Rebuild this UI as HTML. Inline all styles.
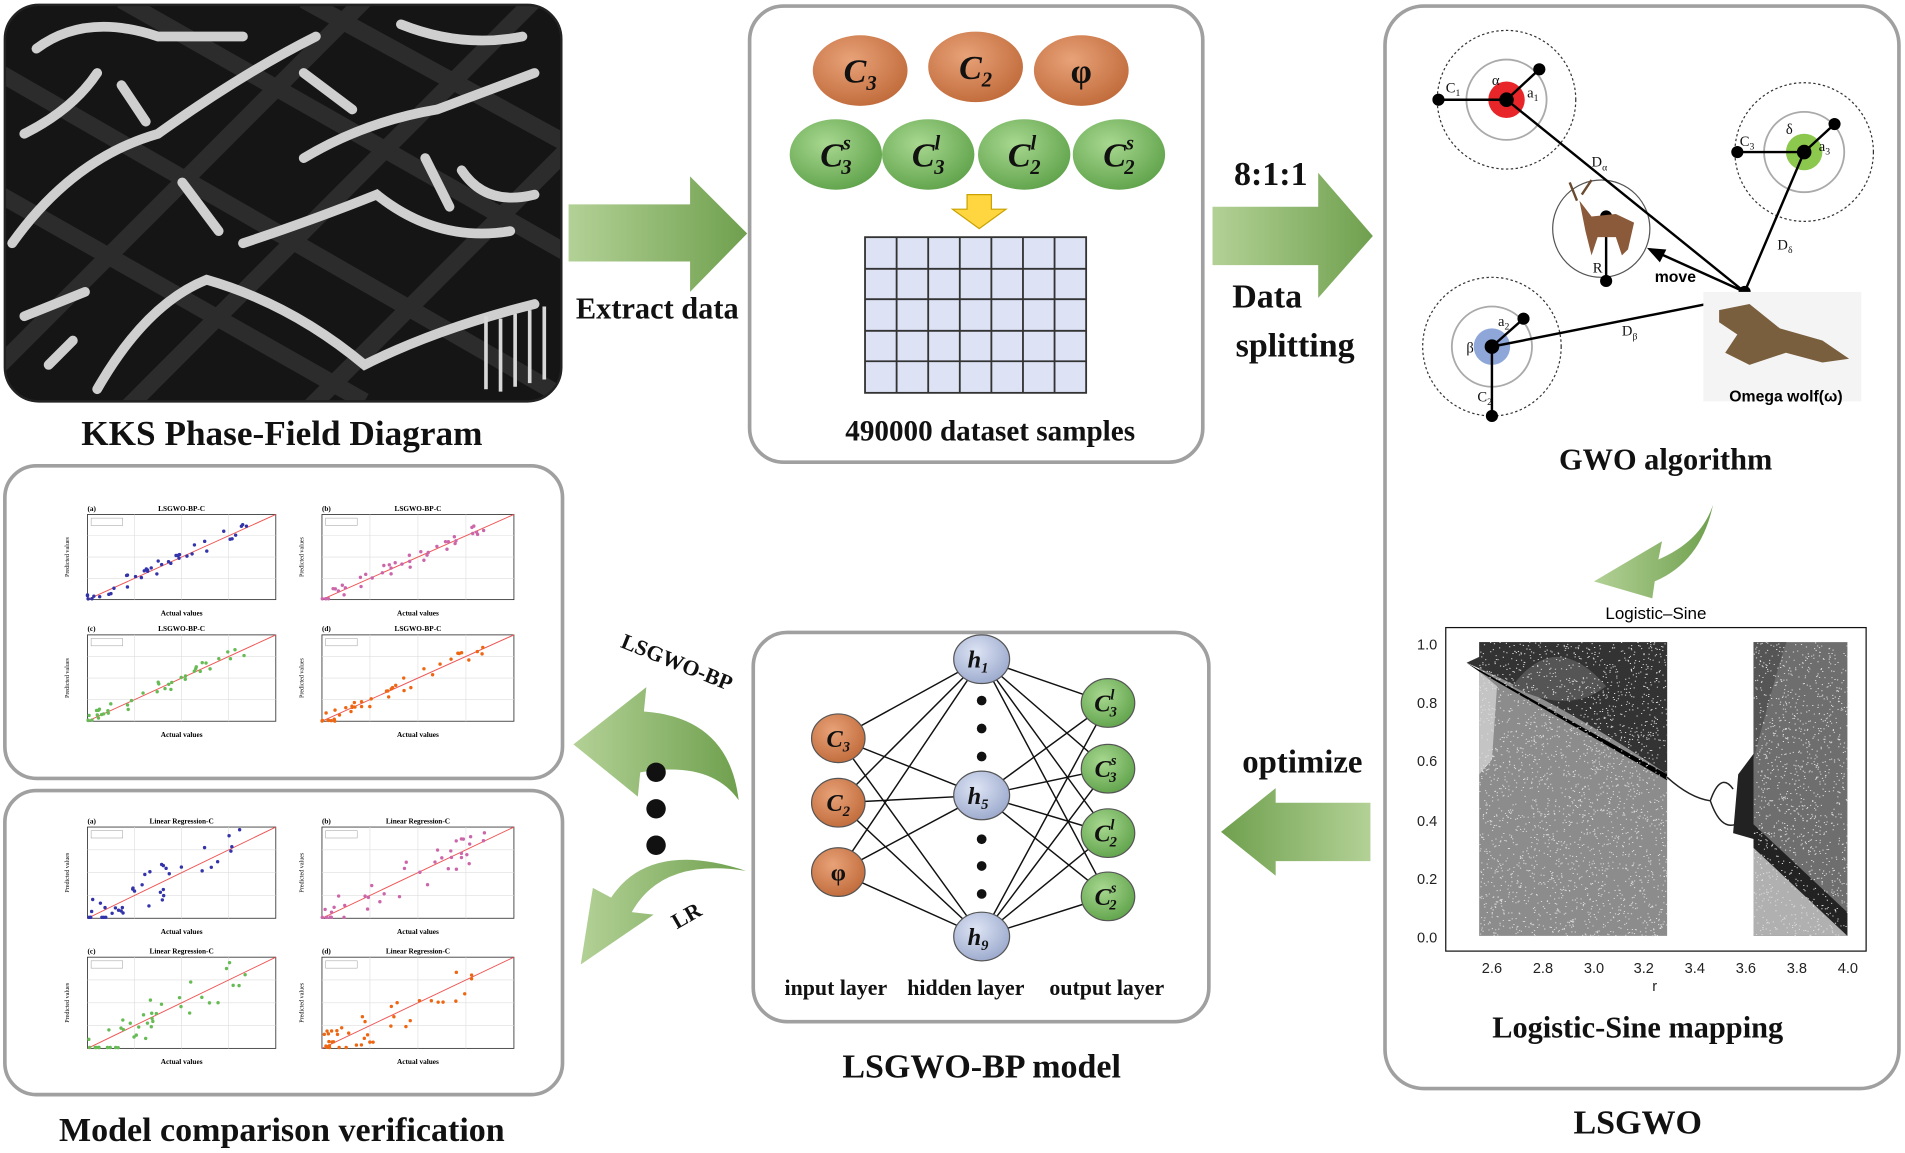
<!DOCTYPE html>
<html><head><meta charset="utf-8"><style>
html,body{margin:0;padding:0;background:#fff;overflow:hidden}
svg{display:block}
.t{font-family:"Liberation Serif",serif;font-weight:bold;fill:#111}
.s{font-family:"Liberation Sans",sans-serif}
</style></head><body>
<svg id="g" width="1905" height="1153" viewBox="0 0 1568 948" preserveAspectRatio="none" xmlns="http://www.w3.org/2000/svg">
<defs>
<radialGradient id="og" cx="40%" cy="35%" r="70%"><stop offset="0" stop-color="#e8a278"/><stop offset="1" stop-color="#c06a3a"/></radialGradient>
<radialGradient id="gg" cx="40%" cy="35%" r="70%"><stop offset="0" stop-color="#a8d890"/><stop offset="1" stop-color="#5fa24a"/></radialGradient>
<radialGradient id="bg" cx="40%" cy="35%" r="70%"><stop offset="0" stop-color="#dde4f4"/><stop offset="1" stop-color="#9aa8cc"/></radialGradient>
<linearGradient id="ar" x1="0" x2="1"><stop offset="0" stop-color="#b3d196"/><stop offset="1" stop-color="#6fa04e"/></linearGradient>
<linearGradient id="al" x1="1" x2="0"><stop offset="0" stop-color="#b3d196"/><stop offset="1" stop-color="#6fa04e"/></linearGradient>
<clipPath id="c1"><rect x="4" y="4" width="458" height="326" rx="28"/></clipPath>
</defs>

<!-- KKS image -->
<g clip-path="url(#c1)">
<rect x="4" y="4" width="458" height="326" fill="#151515"/>
<g stroke="#2c2c2c" stroke-width="14">
<path d="M0 60 L470 330 M0 160 L300 330 M100 0 L470 210 M250 0 L470 120"/>
<path d="M0 300 L300 0 M100 340 L440 0 M250 340 L470 120"/>
</g>
<g stroke="#cfcfcf" stroke-width="8" fill="none" stroke-linecap="round">
<path d="M30 40 Q70 10 130 30 L200 30"/>
<path d="M10 200 Q60 130 130 110 Q200 60 260 30"/>
<path d="M80 320 Q120 250 170 230 Q240 250 300 300 Q360 270 440 250"/>
<path d="M250 130 Q300 100 360 90 L440 60"/>
<path d="M200 200 Q260 180 310 160 Q360 200 420 190"/>
<path d="M330 20 Q380 40 430 30"/>
<path d="M20 260 L70 240"/>
<path d="M150 150 L180 190 M100 70 L120 100 M350 130 L370 170"/>
<path d="M20 110 Q60 90 80 60 M250 60 L290 90 M380 140 Q400 170 440 160 M40 300 L60 280"/>
</g>
<g stroke="#d8d8d8" stroke-width="3"><path d="M400 260 v60 M412 262 v60 M424 258 v60 M436 255 v60 M448 252 v60"/></g>
</g>
<rect x="4" y="4" width="458" height="326" rx="28" fill="none" stroke="#222" stroke-width="2"/>
<text class="t" x="232" y="366" font-size="29" text-anchor="middle">KKS Phase-Field Diagram</text>

<!-- arrow 1 -->
<path d="M468 168 H568 V145 L615 192 L568 240 V215 H468 Z" fill="url(#ar)"/>
<text class="t" x="541" y="262" font-size="25" text-anchor="middle">Extract data</text>

<!-- box 2 -->
<rect x="617" y="5" width="373" height="375" rx="28" fill="#fff" stroke="#a0a0a0" stroke-width="3"/>
<g class="t" font-size="28" font-style="italic" text-anchor="middle" fill="#111">
<ellipse cx="708" cy="58" rx="39" ry="29" fill="url(#og)"/><text x="708" y="68">C<tspan font-size="17" dy="6">3</tspan></text>
<ellipse cx="803" cy="55" rx="39" ry="29" fill="url(#og)"/><text x="803" y="65">C<tspan font-size="17" dy="6">2</tspan></text>
<ellipse cx="890" cy="58" rx="39" ry="29" fill="url(#og)"/><text x="890" y="68" font-style="normal">φ</text>
<ellipse cx="688" cy="127" rx="38" ry="29" fill="url(#gg)"/><text x="688" y="137">C<tspan font-size="17" dy="-14">s</tspan><tspan font-size="17" dx="-8" dy="20">3</tspan></text>
<ellipse cx="764" cy="127" rx="38" ry="29" fill="url(#gg)"/><text x="764" y="137">C<tspan font-size="17" dy="-14">l</tspan><tspan font-size="17" dx="-5" dy="20">3</tspan></text>
<ellipse cx="843" cy="127" rx="38" ry="29" fill="url(#gg)"/><text x="843" y="137">C<tspan font-size="17" dy="-14">l</tspan><tspan font-size="17" dx="-5" dy="20">2</tspan></text>
<ellipse cx="921" cy="127" rx="38" ry="29" fill="url(#gg)"/><text x="921" y="137">C<tspan font-size="17" dy="-14">s</tspan><tspan font-size="17" dx="-8" dy="20">2</tspan></text>
</g>
<path d="M796 160 H816 V172 H828 L806 188 L784 172 H796 Z" fill="#ffd640" stroke="#c9a200"/>
<rect x="712" y="195" width="182" height="128" fill="#dde3f4" stroke="#333" stroke-width="1.5"/>
<g stroke="#333" stroke-width="1.5"><path d="M738 195V323M764 195V323M790 195V323M816 195V323M842 195V323M868 195V323M712 221H894M712 246H894M712 272H894M712 297H894"/></g>
<text class="t" x="815" y="362" font-size="24" text-anchor="middle">490000 dataset samples</text>

<!-- arrow 2 -->
<path d="M998 170 H1085 V142 L1130 194 L1085 245 V218 H998 Z" fill="url(#ar)"/>
<text class="t" x="1046" y="152" font-size="28" text-anchor="middle">8:1:1</text>
<text class="t" x="1043" y="253" font-size="28" text-anchor="middle">Data</text>
<text class="t" x="1066" y="293" font-size="28" text-anchor="middle">splitting</text>

<!-- box 3 -->
<rect x="1140" y="5" width="423" height="890" rx="32" fill="#fff" stroke="#a0a0a0" stroke-width="3"/>
<g fill="none">
<circle cx="1240" cy="82" r="57" stroke="#333" stroke-dasharray="2 2"/><circle cx="1240" cy="82" r="33" stroke="#aaa" stroke-width="1.5"/>
<circle cx="1485" cy="125" r="57" stroke="#333" stroke-dasharray="2 2"/><circle cx="1485" cy="125" r="33" stroke="#aaa" stroke-width="1.5"/>
<circle cx="1228" cy="285" r="57" stroke="#333" stroke-dasharray="2 2"/><circle cx="1228" cy="285" r="33" stroke="#aaa" stroke-width="1.5"/>
<circle cx="1318" cy="188" r="40" stroke="#555"/>
</g>
<circle cx="1240" cy="82" r="15" fill="#e8262a"/><circle cx="1485" cy="125" r="15" fill="#8cc84e"/><circle cx="1228" cy="285" r="15" fill="#8ea6d8"/>
<g stroke="#000" stroke-width="2" fill="#000">
<path d="M1184 82H1240L1267 57M1240 82L1436 240M1430 125H1485L1510 102M1485 125L1436 240M1228 285L1254 262M1228 285V342M1228 285L1430 245M1322 178V231M1436 240L1365 208" fill="none"/>
<circle cx="1184" cy="82" r="4"/><circle cx="1240" cy="82" r="5"/><circle cx="1267" cy="57" r="4"/>
<circle cx="1430" cy="125" r="4"/><circle cx="1485" cy="125" r="5"/><circle cx="1510" cy="102" r="4"/>
<circle cx="1228" cy="285" r="5"/><circle cx="1254" cy="262" r="4"/><circle cx="1228" cy="342" r="4"/>
<circle cx="1322" cy="178" r="4"/><circle cx="1322" cy="231" r="4"/><circle cx="1436" cy="240" r="4"/>
<path d="M1358 205 L1370 206 L1366 214Z"/>
</g>
<path d="M1300 165 L1310 178 L1330 176 L1345 183 L1340 205 L1335 210 L1330 195 L1315 195 L1310 210 L1305 190 Z" fill="#8a5a3a"/>
<path d="M1298 165 L1292 150 M1302 160 L1310 148" stroke="#6a4a30" stroke-width="2"/>
<rect x="1402" y="240" width="130" height="90" fill="#f4f4f4"/>
<path d="M1415 255 L1440 250 L1465 270 L1500 280 L1522 295 L1500 298 L1470 290 L1440 300 L1420 290 L1430 275 L1415 265Z" fill="#7a5f3e"/>
<text class="s" x="1470" y="330" font-size="13" font-weight="bold" text-anchor="middle">Omega wolf(ω)</text>
<text class="s" x="1379" y="232" font-size="13" font-weight="bold" text-anchor="middle">move</text>
<g font-family="Liberation Serif,serif" font-size="12" fill="#111">
<text x="1190" y="76">C<tspan font-size="8" dy="3">1</tspan></text><text x="1228" y="70">α</text><text x="1257" y="80">a<tspan font-size="8" dy="3">1</tspan></text>
<text x="1432" y="120">C<tspan font-size="8" dy="3">3</tspan></text><text x="1470" y="110">δ</text><text x="1497" y="124">a<tspan font-size="8" dy="3">3</tspan></text>
<text x="1207" y="290">β</text><text x="1233" y="268">a<tspan font-size="8" dy="3">2</tspan></text><text x="1216" y="330">C<tspan font-size="8" dy="3">2</tspan></text>
<text x="1311" y="224">R</text><text x="1310" y="137">D<tspan font-size="8" dy="3">α</tspan></text><text x="1463" y="205">D<tspan font-size="8" dy="3">δ</tspan></text><text x="1335" y="276">D<tspan font-size="8" dy="3">β</tspan></text>
</g>
<text class="t" x="1371" y="386" font-size="25" text-anchor="middle">GWO algorithm</text>
<path d="M1410 415 Q1400 445 1365 460 L1368 445 L1312 478 L1360 492 L1362 478 Q1400 462 1410 415Z" fill="url(#ar)"/>

<!-- logistic sine plot -->
<text class="s" x="1363" y="509" font-size="14" text-anchor="middle">Logistic–Sine</text>
<g id="bif"></g>
<g class="s" font-size="12" fill="#222">
<text x="1183" y="534" text-anchor="end">1.0</text><text x="1183" y="582" text-anchor="end">0.8</text><text x="1183" y="630" text-anchor="end">0.6</text><text x="1183" y="679" text-anchor="end">0.4</text><text x="1183" y="727" text-anchor="end">0.2</text><text x="1183" y="775" text-anchor="end">0.0</text>
<text x="1228" y="800" text-anchor="middle">2.6</text><text x="1270" y="800" text-anchor="middle">2.8</text><text x="1312" y="800" text-anchor="middle">3.0</text><text x="1353" y="800" text-anchor="middle">3.2</text><text x="1395" y="800" text-anchor="middle">3.4</text><text x="1437" y="800" text-anchor="middle">3.6</text><text x="1479" y="800" text-anchor="middle">3.8</text><text x="1521" y="800" text-anchor="middle">4.0</text>
<text x="1362" y="815" text-anchor="middle">r</text>
</g>
<text class="t" x="1348" y="853" font-size="25" text-anchor="middle">Logistic-Sine mapping</text>
<text class="t" x="1348" y="932" font-size="28" text-anchor="middle">LSGWO</text>

<!-- optimize arrow -->
<text class="t" x="1072" y="635" font-size="27" text-anchor="middle">optimize</text>
<path d="M1128 660 H1050 V648 L1005 684 L1050 720 V708 H1128 Z" fill="url(#al)"/>

<!-- box 4 NN -->
<rect x="620" y="520" width="375" height="320" rx="28" fill="#fff" stroke="#a0a0a0" stroke-width="3"/>
<g id="nn" stroke="#111" stroke-width="1.2"></g>
<g fill="#111"><circle cx="808" cy="576" r="4"/><circle cx="808" cy="599" r="4"/><circle cx="808" cy="622" r="4"/><circle cx="808" cy="690" r="4"/><circle cx="808" cy="712" r="4"/><circle cx="808" cy="735" r="4"/></g>
<g class="t" font-size="20" font-style="italic" text-anchor="middle">
<ellipse cx="690" cy="607" rx="22" ry="20" fill="url(#og)" stroke="#555"/><text x="690" y="614">C<tspan font-size="12" dy="4">3</tspan></text>
<ellipse cx="690" cy="660" rx="22" ry="20" fill="url(#og)" stroke="#555"/><text x="690" y="667">C<tspan font-size="12" dy="4">2</tspan></text>
<ellipse cx="690" cy="717" rx="22" ry="20" fill="url(#og)" stroke="#555"/><text x="690" y="724" font-style="normal">φ</text>
<ellipse cx="808" cy="542" rx="23" ry="20" fill="url(#bg)" stroke="#555"/><text x="805" y="549">h<tspan font-size="12" dy="4">1</tspan></text>
<ellipse cx="808" cy="654" rx="23" ry="20" fill="url(#bg)" stroke="#555"/><text x="805" y="661">h<tspan font-size="12" dy="4">5</tspan></text>
<ellipse cx="808" cy="770" rx="23" ry="20" fill="url(#bg)" stroke="#555"/><text x="805" y="777">h<tspan font-size="12" dy="4">9</tspan></text>
<ellipse cx="912" cy="578" rx="22" ry="20" fill="url(#gg)" stroke="#555"/><text x="910" y="585">C<tspan font-size="12" dy="-10">l</tspan><tspan font-size="12" dx="-4" dy="14">3</tspan></text>
<ellipse cx="912" cy="632" rx="22" ry="20" fill="url(#gg)" stroke="#555"/><text x="910" y="639">C<tspan font-size="12" dy="-10">s</tspan><tspan font-size="12" dx="-6" dy="14">3</tspan></text>
<ellipse cx="912" cy="685" rx="22" ry="20" fill="url(#gg)" stroke="#555"/><text x="910" y="692">C<tspan font-size="12" dy="-10">l</tspan><tspan font-size="12" dx="-4" dy="14">2</tspan></text>
<ellipse cx="912" cy="737" rx="22" ry="20" fill="url(#gg)" stroke="#555"/><text x="910" y="744">C<tspan font-size="12" dy="-10">s</tspan><tspan font-size="12" dx="-6" dy="14">2</tspan></text>
</g>
<g class="t" font-size="18" text-anchor="middle"><text x="688" y="818">input layer</text><text x="795" y="818">hidden layer</text><text x="911" y="818">output layer</text></g>
<text class="t" x="808" y="886" font-size="28" text-anchor="middle">LSGWO-BP model</text>

<!-- left arrows -->
<path d="M608 658 Q600 590 530 585 L532 565 L472 612 L525 655 L527 635 Q585 625 608 658Z" fill="url(#ar)"/>
<path d="M614 716 Q545 705 520 750 L538 752 L478 793 L488 730 L503 738 Q535 690 614 716Z" fill="url(#ar)"/>
<text class="t" x="555" y="550" font-size="18" text-anchor="middle" transform="rotate(22 555 550)">LSGWO-BP</text>
<text class="t" x="568" y="758" font-size="18" text-anchor="middle" transform="rotate(-30 568 758)">LR</text>
<g fill="#111"><circle cx="540" cy="635" r="8"/><circle cx="540" cy="665" r="8"/><circle cx="540" cy="695" r="8"/></g>

<!-- chart boxes -->
<rect x="4" y="383" width="459" height="257" rx="26" fill="#fff" stroke="#a0a0a0" stroke-width="3"/>
<rect x="4" y="650" width="459" height="250" rx="26" fill="#fff" stroke="#a0a0a0" stroke-width="3"/>
<g id="charts"></g>
<text class="t" x="232" y="938" font-size="28" text-anchor="middle">Model comparison verification</text>
</svg>
<script>
var NS="http://www.w3.org/2000/svg";
function el(p,t,a){var e=document.createElementNS(NS,t);for(var k in a)e.setAttribute(k,a[k]);p.appendChild(e);return e;}
var seed=7;function rnd(){seed=(seed*16807)%2147483647;return seed/2147483647;}
// NN
var nn=document.getElementById('nn');
var I=[[690,607],[690,660],[690,717]],H=[[808,542],[808,654],[808,770]],O=[[912,578],[912,632],[912,685],[912,737]];
I.forEach(function(a){H.forEach(function(b){el(nn,'line',{x1:a[0],y1:a[1],x2:b[0],y2:b[1]});});});
H.forEach(function(a){O.forEach(function(b){el(nn,'line',{x1:a[0],y1:a[1],x2:b[0],y2:b[1]});});});
// bifurcation
var bf=document.getElementById('bif');
function X(r){return 1228+(r-2.6)*209;}function Y(v){return 769.5-v*241.5;}
function P(pts){return pts.map(function(p,i){return (i?'L':'M')+X(p[0]).toFixed(1)+' '+Y(p[1]).toFixed(1);}).join(' ')+'Z';}
// left region base
el(bf,'path',{d:P([[2.55,0],[3.29,0],[3.29,1],[2.55,1]]),fill:'#8c8c8c'});
el(bf,'path',{d:P([[2.55,0.9],[2.62,0.85],[2.55,0.6]]),fill:'#b5b5b5'});
el(bf,'path',{d:P([[2.55,0.55],[2.6,0.6],[2.62,0.85],[2.55,0.9]]),fill:'#c4c4c4'});
// upper dark
el(bf,'path',{d:'M'+X(2.5)+' '+Y(0.93)+' Q'+X(2.9)+' '+Y(0.78)+' '+X(3.29)+' '+Y(0.55)+' L'+X(3.29)+' '+Y(1)+' L'+X(2.55)+' '+Y(1)+' L'+X(2.55)+' '+Y(0.95)+'Z',fill:'#333'});
el(bf,'path',{d:'M'+X(2.68)+' '+Y(0.85)+' Q'+X(2.85)+' '+Y(1.05)+' '+X(3.05)+' '+Y(0.85)+' Q'+X(2.9)+' '+Y(0.75)+' '+X(2.68)+' '+Y(0.85)+'Z',fill:'#555'});
el(bf,'path',{d:P([[2.5,0.93],[3.29,0.55],[3.29,0.53],[2.55,0.9]]),fill:'#000'});
// right region
el(bf,'path',{d:P([[3.63,0],[4.0,0],[4.0,1],[3.63,1]]),fill:'#6e6e6e'});
el(bf,'path',{d:P([[3.63,0],[3.63,0.3],[4.0,0.0]]),fill:'#b0b0b0'});
el(bf,'path',{d:P([[3.63,0.3],[4.0,0],[4.0,0.08],[3.63,0.38]]),fill:'#222'});
el(bf,'path',{d:'M'+X(3.63)+' '+Y(0.6)+' Q'+X(3.72)+' '+Y(0.9)+' '+X(3.76)+' '+Y(1)+' L'+X(3.63)+' '+Y(1)+'Z',fill:'#555'});
el(bf,'path',{d:P([[3.55,0.35],[3.63,0.33],[3.63,0.62],[3.57,0.55]]),fill:'#222'});
// texture
var d='';
for(var i=0;i<2500;i++){var r=2.55+rnd()*0.74;d+='M'+X(r).toFixed(1)+' '+Y(rnd()).toFixed(1)+'h1';}
for(var i=0;i<1200;i++){var r=3.63+rnd()*0.37;d+='M'+X(r).toFixed(1)+' '+Y(rnd()).toFixed(1)+'h1';}
el(bf,'path',{d:d,stroke:'#ddd','stroke-width':0.8});
el(bf,'path',{d:'M'+X(3.29)+' '+Y(0.54)+' Q'+X(3.38)+' '+Y(0.47)+' '+X(3.46)+' '+Y(0.46)+' M'+X(3.46)+' '+Y(0.46)+' Q'+X(3.5)+' '+Y(0.56)+' '+X(3.55)+' '+Y(0.5)+' M'+X(3.46)+' '+Y(0.46)+' Q'+X(3.5)+' '+Y(0.36)+' '+X(3.56)+' '+Y(0.38),stroke:'#222',fill:'none','stroke-width':1.2});
el(bf,'rect',{x:1190,y:516,width:346,height:266,fill:'none',stroke:'#111','stroke-width':1});
// charts
var cg=document.getElementById('charts');
var cols=['#3333aa','#cc66aa','#66bb55','#ee6611'];
var titles=['LSGWO-BP-C','LSGWO-BP-C','LSGWO-BP-C','LSGWO-BP-C','Linear Regression-C','Linear Regression-C','Linear Regression-C','Linear Regression-C'];
var boxes=[[72,423,155,70],[265,423,158,70],[72,522,155,71],[265,522,158,71],[72,680,155,75],[265,680,158,75],[72,787,155,75],[265,787,158,75]];
var lab=['(a)','(b)','(c)','(d)','(a)','(b)','(c)','(d)'];
boxes.forEach(function(b,k){
 var x=b[0],y=b[1],w=b[2],h=b[3];
 el(cg,'rect',{x:x,y:y,width:w,height:h,fill:'#fff',stroke:'#333','stroke-width':0.7});
 for(var i=1;i<4;i++){el(cg,'line',{x1:x+w*i/4,y1:y,x2:x+w*i/4,y2:y+h,stroke:'#ddd','stroke-width':0.5});el(cg,'line',{x1:x,y1:y+h*i/4,x2:x+w,y2:y+h*i/4,stroke:'#ddd','stroke-width':0.5});}
 el(cg,'line',{x1:x,y1:y+h,x2:x+w,y2:y,stroke:'#e55','stroke-width':0.8});
 el(cg,'rect',{x:x+3,y:y+3,width:26,height:6,fill:'#fff',stroke:'#999','stroke-width':0.4});
 var t0=el(cg,'text',{x:x,y:y-3,'font-size':6,'font-family':'Liberation Serif,serif','font-weight':'bold'});t0.textContent=lab[k];
 var t=el(cg,'text',{x:x+w/2,y:y-3,'font-size':6,'text-anchor':'middle','font-family':'Liberation Serif,serif','font-weight':'bold'});t.textContent=titles[k];
 var t2=el(cg,'text',{x:x+w/2,y:y+h+13,'font-size':6,'text-anchor':'middle','font-family':'Liberation Serif,serif','font-weight':'bold'});t2.textContent='Actual values';
 var t3=el(cg,'text',{x:x-15,y:y+h/2,'font-size':5,'text-anchor':'middle','font-family':'Liberation Serif,serif',transform:'rotate(-90 '+(x-15)+' '+(y+h/2)+')'});t3.textContent='Predicted values';
 var spread=k<4?0.08:0.2;
 for(var i=0;i<40;i++){var u=Math.pow(rnd(),1.4)*0.85;var v=u+(rnd()-0.5)*spread*2;if(v<0)v=0.01;if(v>1)v=0.98;
  el(cg,'circle',{cx:x+u*w,cy:y+h-v*h,r:1.4,fill:cols[k%4]});}
});
</script>
</body></html>
